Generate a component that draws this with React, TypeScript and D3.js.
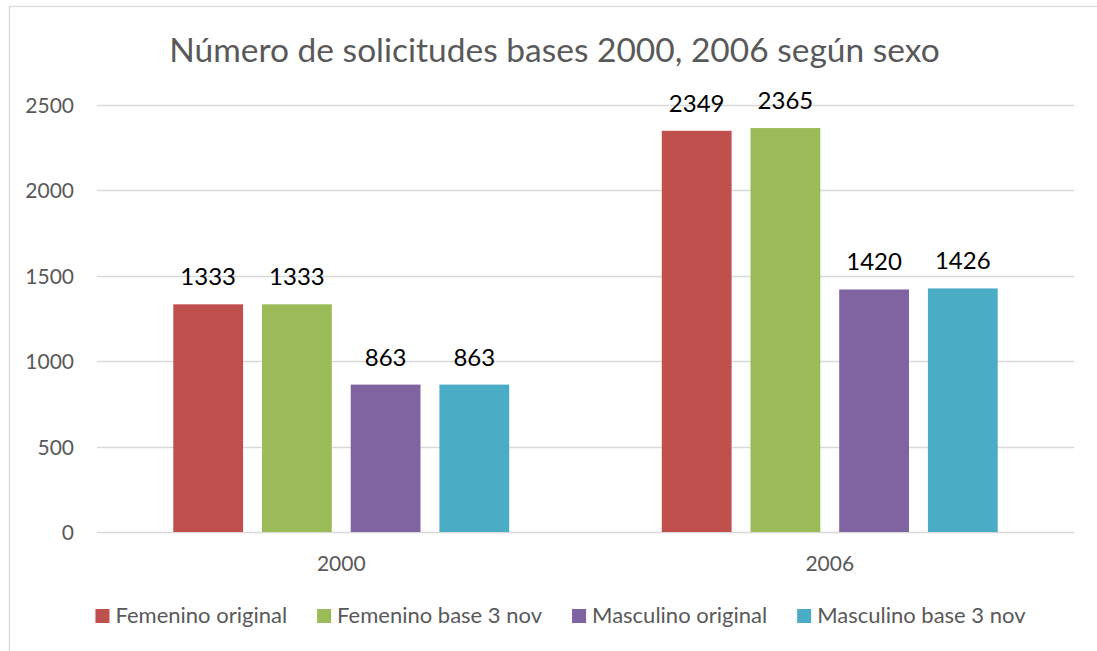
import React, { useEffect, useRef } from "react";
import * as d3 from "d3";

// data
const years = ["2000", "2006"];
const seriesNames = [
  "Femenino original",
  "Femenino base 3 nov",
  "Masculino original",
  "Masculino base 3 nov",
];
const seriesColors = ["#C0504D", "#9BBB59", "#8064A2", "#4BACC6"];
const femeninoOriginal = [1333, 2349];
const femeninoBase = [1333, 2365];
const masculinoOriginal = [863, 1420];
const masculinoBase = [863, 1426];
const yTicks = [0, 500, 1000, 1500, 2000, 2500];

const title = "Número de solicitudes bases 2000, 2006 según sexo";

const W = 1097;
const H = 651;
const FONT = "Lato, 'Open Sans', sans-serif";
const GRAY = "#595959";
const GRID = "#d9d9d9";

export default function App() {
  const ref = useRef<SVGSVGElement>(null);

  useEffect(() => {
    const svg = d3.select(ref.current);
    svg.selectAll("*").remove();

    const values = [femeninoOriginal, femeninoBase, masculinoOriginal, masculinoBase];
    const plot = { left: 97, right: 1074, top: 105, bottom: 532 };

    const x0 = d3.scaleBand().domain(years).range([plot.left, plot.right]);
    const x1 = d3
      .scaleBand()
      .domain(seriesNames)
      .range([0, x0.bandwidth()])
      .paddingInner(0.213)
      .paddingOuter(0.86);
    const y = d3.scaleLinear().domain([0, 2500]).range([plot.bottom, plot.top]);

    // chart border
    svg
      .append("rect")
      .attr("x", 9.5)
      .attr("y", 6.5)
      .attr("width", W + 20)
      .attr("height", H + 20)
      .attr("fill", "#fff")
      .attr("stroke", GRID)
      .attr("stroke-width", 1.3);

    // title
    svg
      .append("text")
      .attr("x", 554.5)
      .attr("y", 62)
      .attr("text-anchor", "middle")
      .attr("font-family", FONT)
      .attr("font-size", 33.5)
      .attr("fill", GRAY)
      .text(title);

    // grid + y labels
    const g = svg.append("g");
    yTicks.forEach((t) => {
      g.append("line")
        .attr("x1", plot.left)
        .attr("x2", plot.right)
        .attr("y1", Math.round(y(t)) + 0.5)
        .attr("y2", Math.round(y(t)) + 0.5)
        .attr("stroke", GRID)
        .attr("stroke-width", t === 0 ? 1.6 : 1.3);
      g.append("text")
        .attr("x", 74)
        .attr("y", y(t) + 8)
        .attr("text-anchor", "end")
        .attr("font-family", FONT)
        .attr("font-size", 21)
        .attr("fill", GRAY)
        .text(t);
    });

    // bars
    seriesNames.forEach((name, si) => {
      const grp = svg.append("g");
      years.forEach((yr, ci) => {
        const v = values[si][ci];
        const bx = x0(yr)! + x1(name)!;
        grp
          .append("rect")
          .attr("x", bx)
          .attr("y", y(v))
          .attr("width", x1.bandwidth())
          .attr("height", y(0) - y(v))
          .attr("fill", seriesColors[si]);
        grp
          .append("text")
          .attr("x", bx + x1.bandwidth() / 2)
          .attr("y", y(v) - 19)
          .attr("text-anchor", "middle")
          .attr("font-family", FONT)
          .attr("font-size", 24)
          .attr("fill", "#000")
          .text(v);
      });
    });

    // category labels
    years.forEach((yr) => {
      svg
        .append("text")
        .attr("x", x0(yr)! + x0.bandwidth() / 2)
        .attr("y", 571)
        .attr("text-anchor", "middle")
        .attr("font-family", FONT)
        .attr("font-size", 21)
        .attr("fill", GRAY)
        .text(yr);
    });

    // legend, centred
    const leg = svg.append("g");
    const items = seriesNames.map((name, i) => {
      const it = leg.append("g");
      it.append("rect")
        .attr("y", 609)
        .attr("width", 14)
        .attr("height", 14)
        .attr("fill", seriesColors[i]);
      const txt = it
        .append("text")
        .attr("x", 20)
        .attr("y", 623)
        .attr("font-family", FONT)
        .attr("font-size", 22)
        .attr("fill", GRAY)
        .text(name);
      const w = (txt.node() as SVGTextElement).getComputedTextLength();
      return { it, w: 20 + w };
    });
    const gap = 30;
    const total = d3.sum(items, (d) => d.w) + gap * (items.length - 1);
    let cx = 560.5 - total / 2;
    items.forEach((d) => {
      d.it.attr("transform", `translate(${cx},0)`);
      cx += d.w + gap;
    });
  }, []);

  return (
    <svg
      ref={ref}
      width={W}
      height={H}
      style={{ position: "absolute", left: 0, top: 0, background: "#fff" }}
    />
  );
}
